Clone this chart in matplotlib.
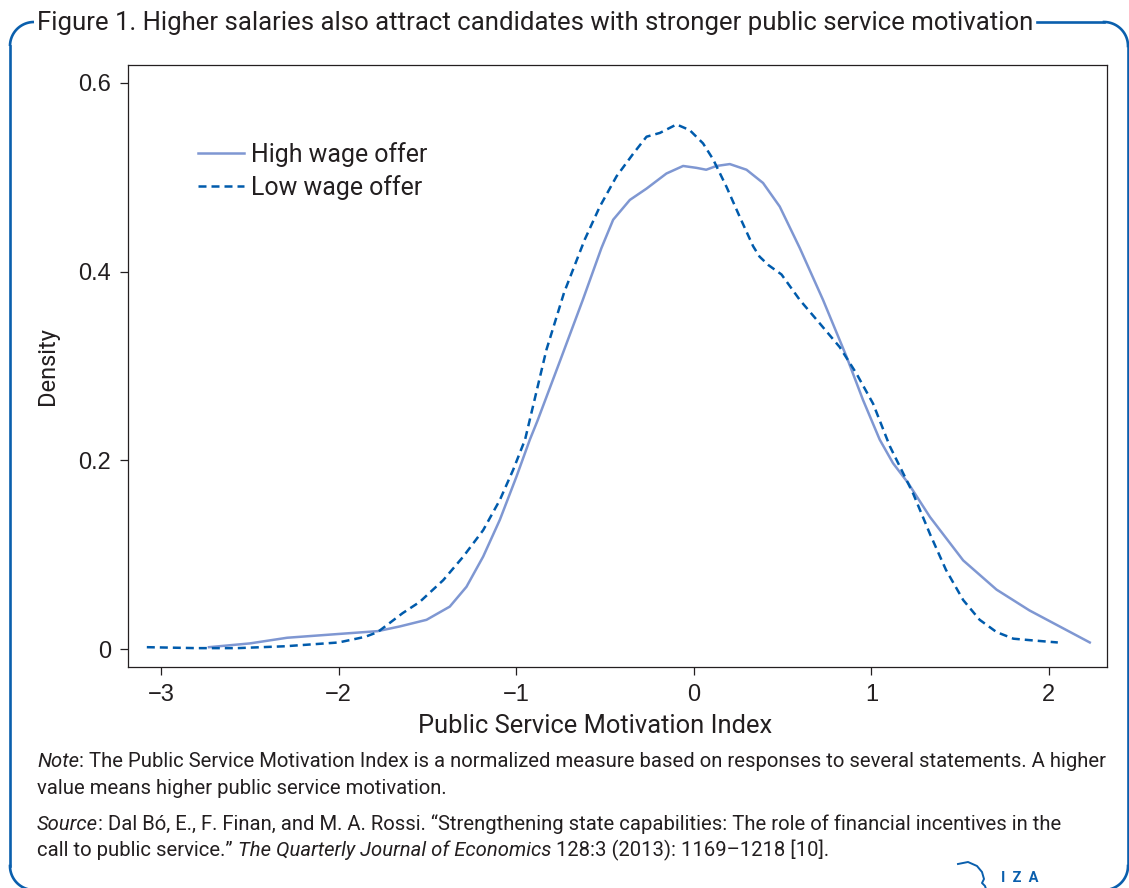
import numpy as np
import matplotlib
matplotlib.use("Agg")
import matplotlib.pyplot as plt

# ---------------- data ----------------
high_x = [-2.73, -2.50, -2.29, -2.00, -1.78, -1.655, -1.505, -1.374, -1.28, -1.186,
          -1.092, -0.998, -0.923, -0.88, -0.75, -0.625, -0.52, -0.454, -0.36, -0.266,
          -0.154, -0.06, 0.015, 0.07, 0.128, 0.203, 0.297, 0.39, 0.484, 0.597,
          0.728, 0.86, 0.953, 1.047, 1.122, 1.207, 1.33, 1.517, 1.705, 1.89,
          2.08, 2.23]
high_y = [0.002, 0.006, 0.012, 0.016, 0.019, 0.024, 0.031, 0.045, 0.066, 0.098,
          0.137, 0.183, 0.222, 0.242, 0.307, 0.370, 0.425, 0.455, 0.476, 0.488,
          0.504, 0.512, 0.510, 0.508, 0.512, 0.514, 0.508, 0.494, 0.469, 0.425,
          0.370, 0.310, 0.264, 0.222, 0.197, 0.176, 0.140, 0.094, 0.063, 0.041,
          0.022, 0.007]

low_x = [-3.08, -2.80, -2.57, -2.30, -2.00, -1.85, -1.78, -1.64, -1.543, -1.411,
         -1.298, -1.186, -1.092, -1.017, -0.95, -0.83, -0.73, -0.614, -0.529, -0.435,
         -0.341, -0.266, -0.191, -0.097, -0.023, 0.052, 0.109, 0.184, 0.259, 0.334,
         0.37, 0.42, 0.494, 0.597, 0.71, 0.822, 0.916, 1.01, 1.104, 1.235,
         1.33, 1.42, 1.517, 1.61, 1.705, 1.80, 1.92, 2.05]
low_y = [0.002, 0.001, 0.001, 0.003, 0.007, 0.013, 0.018, 0.038, 0.050, 0.073,
         0.098, 0.126, 0.158, 0.190, 0.222, 0.317, 0.378, 0.434, 0.469, 0.501,
         0.525, 0.543, 0.547, 0.556, 0.550, 0.536, 0.519, 0.490, 0.458, 0.427,
         0.416, 0.407, 0.397, 0.370, 0.345, 0.320, 0.292, 0.260, 0.215, 0.165,
         0.122, 0.084, 0.052, 0.031, 0.018, 0.011, 0.009, 0.007]

x_ticks = [-3, -2, -1, 0, 1, 2]
x_ticklabels = ["\u22123", "\u22122", "\u22121", "0", "1", "2"]
y_ticks = [0, 0.2, 0.4, 0.6]
y_ticklabels = ["0", "0.2", "0.4", "0.6"]

series_labels = ["High wage offer", "Low wage offer"]
title = "Figure 1. Higher salaries also attract candidates with stronger public service motivation"
x_label = "Public Service Motivation Index"
y_label = "Density"

note_lines = [
    [("Note", True), (": The Public Service Motivation Index is a normalized measure based on responses to several statements. A higher", False)],
    [("value means higher public service motivation.", False)],
    [("Source", True), (": Dal B\u00f3, E., F. Finan, and M. A. Rossi. \u201cStrengthening state capabilities: The role of financial incentives in the", False)],
    [("call to public service.\u201d ", False), ("The Quarterly Journal of Economics", True), (" 128:3 (2013): 1169\u20131218 [10].", False)],
]

# ---------------- style ----------------
W, H = 1129, 888
TXT = "#231f20"
BLUE = "#0a5fad"
HIGH_C = "#7f97d2"
LOW_C = "#005bac"
SANS = ["Roboto", "DejaVu Sans"]
TICKF = ["Liberation Sans", "DejaVu Sans"]

fig = plt.figure(figsize=(W / 100, H / 100), dpi=100)
fig.patch.set_facecolor("white")

# overlay in pixel coordinates for frame and notes
ov = fig.add_axes([0, 0, 1, 1])
ov.set_xlim(0, W)
ov.set_ylim(H, 0)
ov.axis("off")
ov.patch.set_alpha(0)

def arc(cx, cy, r, t0, t1):
    t = np.linspace(t0, t1, 40)
    return cx + r * np.cos(t), cy + r * np.sin(t)

lw_f = 1.9
r = 24
# top-left corner
xs, ys = arc(34, 46, r, np.pi, 1.5 * np.pi)
ov.plot(xs, ys, color=BLUE, lw=lw_f, solid_capstyle="butt")
ov.plot([10, 10], [46, 866], color=BLUE, lw=lw_f)
xs, ys = arc(34, 866, r, 0.5 * np.pi, np.pi)
ov.plot(xs, ys, color=BLUE, lw=lw_f)
# top-right corner
ov.plot([1037, 1104], [22, 22], color=BLUE, lw=lw_f)
xs, ys = arc(1104, 46, r, 1.5 * np.pi, 2 * np.pi)
ov.plot(xs, ys, color=BLUE, lw=lw_f)
ov.plot([1128, 1128], [46, 866], color=BLUE, lw=lw_f)
xs, ys = arc(1104, 866, r, 0, 0.5 * np.pi)
ov.plot(xs, ys, color=BLUE, lw=lw_f)

# title
ov.text(37, 30, title, fontsize=18.55, family=SANS, color=TXT, va="baseline", ha="left")

# notes with italic segments
fig.canvas.draw()
renderer = fig.canvas.get_renderer()
baselines = [767, 794, 830, 856]
for segs, yb in zip(note_lines, baselines):
    xpos = 37
    for s, ital in segs:
        t = ov.text(xpos, yb, s, fontsize=14.6, family=SANS, color=TXT,
                    style="italic" if ital else "normal", va="baseline", ha="left")
        bb = t.get_window_extent(renderer=renderer)
        xpos += bb.width

# IZA logo
hx = [958, 968, 977, 982, 984, 982, 985, 986]
hy = [864, 862, 866, 872, 879, 883, 886, 889]
ov.plot(hx, hy, color=BLUE, lw=1.4)
ov.text(1020, 882, "I  Z  A", fontsize=10.5, fontweight="bold", family=SANS,
        color=BLUE, ha="center", va="baseline")

# ---------------- main axes ----------------
ax = fig.add_axes([128 / W, 1 - 667 / H, (1107 - 128) / W, (667 - 65) / H])
ax.plot(high_x, high_y, color=HIGH_C, lw=1.8, label=series_labels[0],
        solid_joinstyle="round")
ax.plot(low_x, low_y, color=LOW_C, lw=1.8, dashes=(3.2, 2.0), label=series_labels[1])

x0 = -3.186
x1 = 2.327
ax.set_xlim(x0, x1)
ax.set_ylim(-0.019, 0.619)
ax.set_xticks(x_ticks)
ax.set_xticklabels(x_ticklabels)
ax.set_yticks(y_ticks)
ax.set_yticklabels(y_ticklabels)
for lab in ax.get_xticklabels() + ax.get_yticklabels():
    lab.set_family(TICKF)
    lab.set_fontsize(17)
    lab.set_color(TXT)
ax.tick_params(direction="out", length=6, width=0.9, color=TXT, pad=6)
for sp in ax.spines.values():
    sp.set_linewidth(0.9)
    sp.set_color(TXT)

ax.set_xlabel(x_label, fontsize=18.4, family=SANS, color=TXT)
ax.xaxis.set_label_coords((595 - 128) / (1107 - 128), -(726 - 667) / (667 - 65))
ax.xaxis.label.set_va("center")
ax.set_ylabel(y_label, fontsize=17, family=SANS, color=TXT, labelpad=14)

leg = ax.legend(loc="upper left", bbox_to_anchor=(198 / W, 1 - 142 / H),
                bbox_transform=fig.transFigure, frameon=False,
                prop={"family": SANS, "size": 17.9}, handlelength=1.85,
                handletextpad=0.28, labelspacing=0.32, borderpad=0, borderaxespad=0)
for t in leg.get_texts():
    t.set_color(TXT)

fig.savefig("out.png", dpi=100, facecolor="white")
